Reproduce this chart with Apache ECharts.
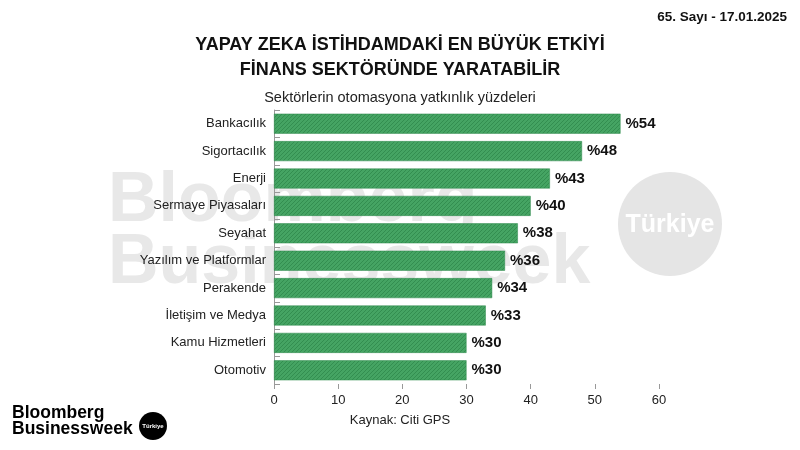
<!DOCTYPE html>
<html><head><meta charset="utf-8">
<script src="https://cdn.jsdelivr.net/npm/echarts@6/dist/echarts.min.js"></script>
<style>html,body{margin:0;padding:0;background:#fff}#c{width:800px;height:450px}</style>
</head><body><div id="c"></div>
<script>
const categories = ['Bankacılık','Sigortacılık','Enerji','Sermaye Piyasaları','Seyahat','Yazılım ve Platformlar','Perakende','İletişim ve Medya','Kamu Hizmetleri','Otomotiv'];
const values = [54,48,43,40,38,36,34,33,30,30];
const xTicks = [0,10,20,30,40,50,60];

function makePattern(){
  const s=4, c=document.createElement('canvas'); c.width=s; c.height=s;
  const g=c.getContext('2d');
  g.fillStyle='#45a463'; g.fillRect(0,0,s,s);
  g.strokeStyle='#338e50'; g.lineWidth=1;
  g.beginPath();
  g.moveTo(0,s); g.lineTo(s,0);
  g.moveTo(-s/2,s/2); g.lineTo(s/2,-s/2);
  g.moveTo(s/2,s+s/2); g.lineTo(s+s/2,s/2);
  g.stroke();
  return c;
}
const font = '"Liberation Sans", Arial, sans-serif';
const chart = echarts.init(document.getElementById('c'));
chart.setOption({
  animation:false,
  backgroundColor:'#fff',
  grid:{left:274,right:141,top:110,bottom:66},
  xAxis:{type:'value',min:xTicks[0],max:xTicks[xTicks.length-1],interval:10,
    axisLine:{show:false},splitLine:{show:false},
    axisTick:{show:true,length:5,lineStyle:{color:'#999'}},
    axisLabel:{margin:10,color:'#222',fontSize:13,fontFamily:font}},
  yAxis:{type:'category',inverse:true,data:categories,
    axisLine:{show:true,lineStyle:{color:'#999',width:1}},
    axisTick:{show:true,inside:true,length:6,lineStyle:{color:'#999'}},
    axisLabel:{margin:8,color:'#222',fontSize:13,fontFamily:font}},
  graphic:[
    {type:'text',left:'center',top:36,z:10,style:{text:'YAPAY ZEKA İSTİHDAMDAKİ EN BÜYÜK ETKİYİ',font:'bold 18px '+font,fill:'#111'}},
    {type:'text',left:'center',top:61,z:10,style:{text:'FİNANS SEKTÖRÜNDE YARATABİLİR',font:'bold 18px '+font,fill:'#111'}},
    {type:'text',left:'center',top:90,z:10,style:{text:'Sektörlerin otomasyona yatkınlık yüzdeleri',font:'14.5px '+font,fill:'#222'}},
    {type:'text',right:13,top:10,z:10,style:{text:'65. Sayı - 17.01.2025',font:'bold 13.5px '+font,fill:'#111'}},
    {type:'text',left:'center',top:414,z:10,style:{text:'Kaynak: Citi GPS',font:'13px '+font,fill:'#222'}},
    {type:'text',left:108,top:167,z:-1,silent:true,style:{text:'Bloomberg',font:'bold 70px '+font,fill:'#e8e8e8'}},
    {type:'text',left:108,top:229,z:-1,silent:true,style:{text:'Businessweek',font:'bold 70px '+font,fill:'#e8e8e8'}},
    {type:'circle',z:-1,silent:true,shape:{cx:670,cy:224,r:52},style:{fill:'#e5e5e5'}},
    {type:'text',z:-1,silent:true,x:670,y:225,style:{text:'Türkiye',font:'bold 25px '+font,fill:'#fff',textAlign:'center',textVerticalAlign:'middle'}},
    {type:'text',left:12,top:404,z:10,style:{text:'Bloomberg\nBusinessweek',font:'bold 17.5px '+font,lineHeight:16,fill:'#000'}},
    {type:'circle',z:10,shape:{cx:153,cy:426,r:14},style:{fill:'#000'}},
    {type:'text',z:11,x:153,y:426,style:{text:'Türkiye',font:'bold 6px '+font,fill:'#fff',textAlign:'center',textVerticalAlign:'middle'}}
  ],
  series:[{type:'bar',data:values,barWidth:20,z:2,
    itemStyle:{color:{image:makePattern(),repeat:'repeat'},borderColor:'#2f8a4c',borderWidth:0.5},
    label:{show:true,position:'right',distance:5,formatter:'%{c}',color:'#111',fontWeight:'bold',fontSize:15,fontFamily:font}
  }]
});
</script></body></html>
